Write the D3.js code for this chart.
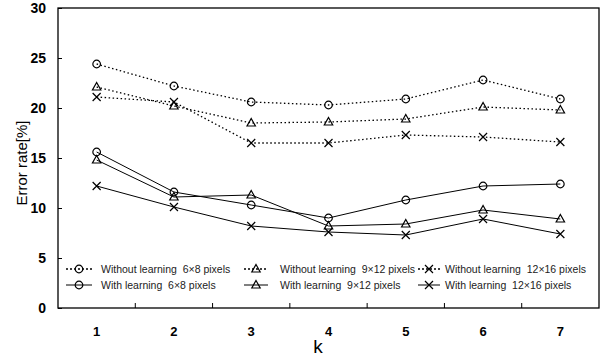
<!DOCTYPE html>
<html>
<head>
<meta charset="utf-8">
<script src="https://cdn.jsdelivr.net/npm/d3@7"></script>
<style>
  body { margin: 0; background: #fff; }
  svg { display: block; font-family: Arial, "Liberation Sans", sans-serif; }
</style>
</head>
<body>
<svg id="chart" width="607" height="356"></svg>
<script>
// values
const ks = [1, 2, 3, 4, 5, 6, 7];
const yTicks = [0, 5, 10, 15, 20, 25, 30];

const without6x8 = [24.4, 22.2, 20.6, 20.3, 20.9, 22.8, 20.9];
const without9x12 = [22.1, 20.2, 18.5, 18.6, 18.9, 20.1, 19.8];
const without12x16 = [21.1, 20.6, 16.5, 16.5, 17.3, 17.1, 16.6];
const with6x8 = [15.6, 11.6, 10.3, 9.0, 10.8, 12.2, 12.4];
const with9x12 = [14.8, 11.1, 11.3, 8.2, 8.4, 9.8, 8.9];
const with12x16 = [12.2, 10.1, 8.2, 7.6, 7.3, 8.9, 7.4];

const seriesNames = [
    "Without learning  6\u00d78 pixels",
    "Without learning  9\u00d712 pixels",
    "Without learning  12\u00d716 pixels",
    "With learning  6\u00d78 pixels",
    "With learning  9\u00d712 pixels",
    "With learning  12\u00d716 pixels"
];
const seriesValues = [without6x8, without9x12, without12x16, with6x8, with9x12, with12x16];
const seriesMarkers = ["circle", "triangle", "cross", "circle", "triangle", "cross"];
const seriesDotted = [true, true, true, false, false, false];

const margin = {top: 8, right: 8, bottom: 48, left: 58};
const width = 607 - margin.left - margin.right;
const height = 356 - margin.top - margin.bottom;

const svg = d3.select("#chart");
const g = svg.append("g").attr("transform", `translate(${margin.left},${margin.top})`);

const x = d3.scaleBand().domain(ks).range([0, width]);
const y = d3.scaleLinear().domain([0, 30]).range([height, 0]);
const xc = k => x(k) + x.bandwidth() / 2;

// frame
g.append("rect")
    .attr("width", width).attr("height", height)
    .attr("fill", "none").attr("stroke", "#000").attr("stroke-width", 1.3);

// y axis: ticks inside, bold labels
const yAxis = g.append("g")
    .call(d3.axisLeft(y).tickValues(yTicks).tickSizeInner(-4).tickSizeOuter(0).tickPadding(12));
yAxis.select(".domain").remove();
yAxis.selectAll("text")
    .attr("font-size", 14).attr("font-weight", "bold")
    .attr("font-family", "Arial, 'Liberation Sans', sans-serif").attr("fill", "#000");

// x axis: ticks on band boundaries, labels at centers
const xAxis = g.append("g").attr("transform", `translate(0,${height})`);
xAxis.selectAll("line")
    .data(ks.slice(1))
    .join("line")
    .attr("x1", d => x(d)).attr("x2", d => x(d))
    .attr("y1", 0).attr("y2", -5)
    .attr("stroke", "#000");
xAxis.selectAll("text")
    .data(ks)
    .join("text")
    .attr("x", d => xc(d))
    .attr("y", 28)
    .attr("text-anchor", "middle")
    .attr("font-size", 13).attr("font-weight", "bold")
    .attr("font-family", "'Liberation Sans Narrow', Arial, sans-serif")
    .text(d => d);

// axis titles
svg.append("text")
    .attr("x", 318).attr("y", 353)
    .attr("text-anchor", "middle")
    .attr("font-size", 19)
    .text("k");
svg.append("text")
    .attr("transform", "translate(27,163) rotate(-90)")
    .attr("text-anchor", "middle")
    .attr("font-size", 15)
    .text("Error rate[%]");

function drawMarker(sel, type) {
    if (type === "circle") {
        sel.append("circle").attr("r", 3.8)
            .attr("fill", "none").attr("stroke", "#000").attr("stroke-width", 1.2);
    } else if (type === "triangle") {
        sel.append("path").attr("d", "M0,-4.5L4.2,3L-4.2,3Z")
            .attr("fill", "none").attr("stroke", "#000").attr("stroke-width", 1.2);
    } else {
        sel.append("path").attr("d", "M-4,-4L4,4M-4,4L4,-4")
            .attr("fill", "none").attr("stroke", "#000").attr("stroke-width", 1.2);
    }
}

const line = d3.line().x(d => xc(d.k)).y(d => y(d.v));

seriesValues.forEach((vals, i) => {
    const pts = ks.map((k, j) => ({k: k, v: vals[j]}));
    g.append("path")
        .datum(pts)
        .attr("d", line)
        .attr("fill", "none")
        .attr("stroke", "#000")
        .attr("stroke-width", seriesDotted[i] ? 1.3 : 1)
        .attr("stroke-dasharray", seriesDotted[i] ? "1.5,2.5" : null);
    pts.forEach(p => {
        const m = g.append("g").attr("transform", `translate(${xc(p.k)},${y(p.v)})`);
        drawMarker(m, seriesMarkers[i]);
    });
});

// legend, 3 columns x 2 rows
const legCols = [{sym: 79, half: 13, txt: 101}, {sym: 256, half: 12, txt: 280}, {sym: 429, half: 11, txt: 445}];
const legRows = [269, 285];
seriesNames.forEach((name, i) => {
    const col = legCols[i % 3];
    const row = legRows[Math.floor(i / 3)];
    const item = svg.append("g");
    item.append("line")
        .attr("x1", col.sym - col.half).attr("x2", col.sym + col.half)
        .attr("y1", row).attr("y2", row)
        .attr("stroke", "#000")
        .attr("stroke-width", seriesDotted[i] ? 1.6 : 1)
        .attr("stroke-dasharray", seriesDotted[i] ? "2,2" : null);
    drawMarker(item.append("g").attr("transform", `translate(${col.sym},${row})`), seriesMarkers[i]);
    item.append("text")
        .attr("x", col.txt).attr("y", row + 4)
        .attr("font-size", 10.5)
        .attr("fill", "#222")
        .style("white-space", "pre")
        .text(name);
});
</script>
</body>
</html>
